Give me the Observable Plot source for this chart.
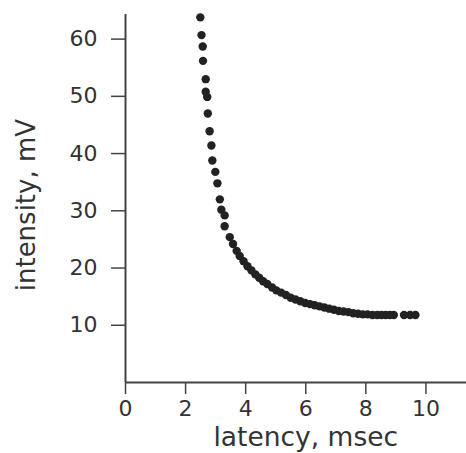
<!DOCTYPE html>
<html>
<head>
<meta charset="utf-8">
<script src="https://cdn.jsdelivr.net/npm/d3@7"></script>
<script src="https://cdn.jsdelivr.net/npm/@observablehq/plot@0.6"></script>
<style>
  html, body { margin: 0; padding: 0; background: #fff; }
</style>
</head>
<body>
<div id="chart"></div>
<script>
const latency = [2.49, 2.53, 2.57, 2.58, 2.67, 2.67, 2.72, 2.74, 2.80, 2.86, 2.89, 2.99, 3.06, 3.14, 3.19, 3.30, 3.30, 3.47, 3.58, 3.70, 3.80, 3.93, 4.06, 4.19, 4.32, 4.45, 4.58, 4.72, 4.88, 5.02, 5.18, 5.34, 5.50, 5.66, 5.82, 5.98, 6.14, 6.30, 6.46, 6.62, 6.78, 6.94, 7.10, 7.26, 7.42, 7.58, 7.74, 7.90, 8.06, 8.22, 8.38, 8.52, 8.66, 8.80, 8.93, 9.27, 9.47, 9.65];
const intensity = [63.8, 60.7, 58.7, 56.2, 53.0, 50.8, 49.9, 47.0, 43.9, 41.4, 38.8, 36.8, 34.8, 32.0, 30.2, 29.2, 27.3, 25.4, 24.2, 23.0, 22.1, 21.2, 20.3, 19.6, 18.9, 18.3, 17.7, 17.2, 16.6, 16.1, 15.7, 15.3, 14.8, 14.5, 14.2, 13.9, 13.7, 13.5, 13.3, 13.1, 12.9, 12.7, 12.5, 12.4, 12.3, 12.1, 12.0, 11.9, 11.9, 11.8, 11.8, 11.8, 11.8, 11.8, 11.8, 11.8, 11.8, 11.8];
const xTicks = [0, 2, 4, 6, 8, 10];
const yTicks = [10, 20, 30, 40, 50, 60];
const xTitle = "latency, msec";
const yTitle = "intensity, mV";

const points = latency.map((x, i) => ({x, y: intensity[i]}));

const chart = Plot.plot({
  width: 466,
  height: 453,
  marginLeft: 125,
  marginRight: 0,
  marginTop: 14,
  marginBottom: 71,
  x: {domain: [0, 11.35]},
  y: {domain: [0, 64.3]},
  style: {fontFamily: "DejaVu Sans", fontSize: "22px", color: "#333", background: "#fff"},
  marks: [
    Plot.axisX(xTicks, {tickSize: 12, tickPadding: 6, label: null, fontSize: 22, stroke: "#444", strokeWidth: 1.5, fill: "#333"}),
    Plot.axisY(yTicks, {tickSize: 14, tickPadding: 14, label: null, fontSize: 22, stroke: "#444", strokeWidth: 1.5, fill: "#333"}),
    Plot.ruleX([0], {stroke: "#444", strokeWidth: 2}),
    Plot.ruleY([0], {stroke: "#444", strokeWidth: 2}),
    Plot.dot(points, {x: "x", y: "y", r: 4.2, fill: "#222", stroke: "none"}),
    Plot.text([xTitle], {x: 6, frameAnchor: "bottom", textAnchor: "middle", dy: 63, fontSize: 26.5, fill: "#333"}),
    Plot.text([yTitle], {y: 31, frameAnchor: "left", textAnchor: "middle", dx: -99, rotate: -90, fontSize: 26, fill: "#333"})
  ]
});
document.getElementById("chart").appendChild(chart);
</script>
</body>
</html>
